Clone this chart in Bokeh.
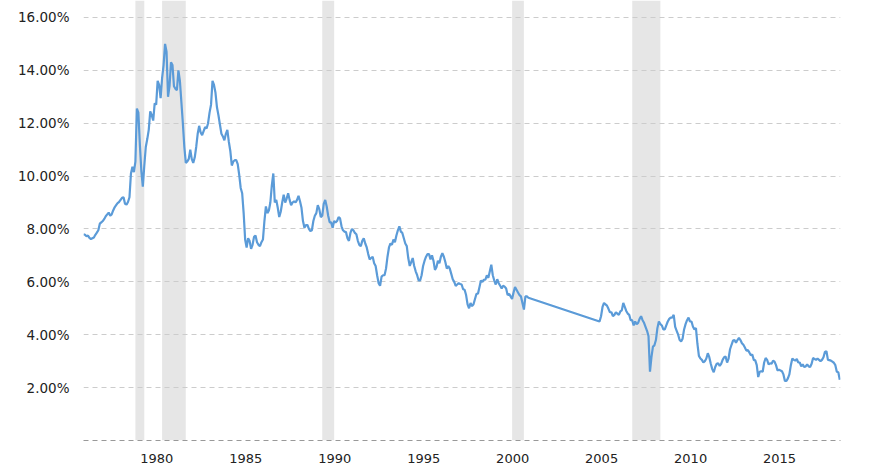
import pandas as pd
from bokeh.plotting import figure
from bokeh.models import (Range1d, FixedTicker, PrintfTickFormatter, BoxAnnotation,
                          CustomJSTickFormatter)
from bokeh.embed import file_html
from bokeh.resources import INLINE

# 30-year treasury yield (%), monthly, Feb 1977 - Feb 2002
seg1_start = "1977-02-01"
seg1_yield = [
    7.80, 7.78, 7.72, 7.75, 7.66, 7.62, 7.65, 7.68, 7.78, 7.86, 7.95,                 # 1977
    8.20, 8.25, 8.30, 8.38, 8.48, 8.55, 8.62, 8.50, 8.55, 8.70, 8.82, 8.90,           # 1978
    8.98, 9.02, 9.10, 9.18, 9.20, 8.95, 8.92, 9.02, 9.20, 10.10, 10.35, 10.15,        # 1979
    10.55, 12.55, 12.40, 11.20, 10.20, 9.60, 10.40, 11.10, 11.40, 11.75, 12.45, 12.30,  # 1980
    12.10, 12.75, 12.70, 13.60, 13.45, 12.95, 13.70, 14.20, 15.00, 14.70, 13.00, 13.40,  # 1981
    14.30, 14.20, 13.40, 13.30, 13.25, 14.00, 13.60, 12.80, 12.00, 11.10, 10.50, 10.55,  # 1982
    10.65, 11.00, 10.65, 10.50, 10.70, 11.10, 11.60, 11.90, 11.65, 11.55, 11.70, 11.85,  # 1983
    11.80, 12.00, 12.40, 12.70, 13.60, 13.45, 13.15, 12.60, 12.30, 11.95, 11.60, 11.50,  # 1984
    11.35, 11.60, 11.75, 11.30, 10.95, 10.40, 10.55, 10.60, 10.60, 10.45, 10.05, 9.55,   # 1985
    9.35, 8.60, 7.60, 7.30, 7.65, 7.55, 7.25, 7.40, 7.70, 7.75, 7.50, 7.40,           # 1986
    7.35, 7.50, 7.60, 8.30, 8.85, 8.60, 8.70, 9.00, 9.65, 10.10, 9.00, 9.10,          # 1987
    8.80, 8.45, 8.65, 9.00, 9.30, 9.00, 9.15, 9.35, 9.10, 8.90, 9.00, 9.05,           # 1988
    9.00, 9.10, 9.25, 9.05, 8.80, 8.30, 8.05, 8.15, 8.15, 8.00, 7.92, 7.95,           # 1989
    8.30, 8.50, 8.60, 8.90, 8.75, 8.45, 8.50, 8.95, 9.10, 8.85, 8.50, 8.25,           # 1990
    8.25, 8.05, 8.30, 8.25, 8.30, 8.45, 8.40, 8.10, 7.95, 7.90, 7.88, 7.65,           # 1991
    7.55, 7.85, 8.00, 7.95, 7.85, 7.80, 7.55, 7.40, 7.35, 7.55, 7.65, 7.45,           # 1992
    7.30, 7.05, 6.85, 6.90, 6.95, 6.70, 6.60, 6.25, 5.95, 5.85, 6.20, 6.25,           # 1993
    6.25, 6.50, 6.95, 7.30, 7.45, 7.40, 7.60, 7.50, 7.75, 7.95, 8.10, 7.90,           # 1994
    7.85, 7.65, 7.45, 7.35, 6.90, 6.60, 6.75, 6.90, 6.60, 6.40, 6.25, 6.05,           # 1995
    6.05, 6.25, 6.60, 6.80, 6.95, 7.05, 7.05, 6.85, 7.00, 6.80, 6.45, 6.55,           # 1996
    6.80, 6.70, 6.95, 7.08, 6.95, 6.75, 6.50, 6.60, 6.50, 6.30, 6.10, 6.00,           # 1997
    5.85, 5.90, 5.95, 5.92, 5.90, 5.72, 5.70, 5.50, 5.15, 5.00, 5.20, 5.08,           # 1998
    5.15, 5.35, 5.55, 5.55, 5.80, 6.05, 6.00, 6.08, 6.08, 6.25, 6.15, 6.40,           # 1999
    6.65, 6.25, 6.05, 5.90, 6.10, 5.95, 5.85, 5.75, 5.85, 5.82, 5.75, 5.50,           # 2000
    5.55, 5.45, 5.35, 5.60, 5.80, 5.70, 5.60, 5.50, 5.45, 5.20, 4.95, 5.45,           # 2001
    5.45, 5.40,                                                                      # 2002
]

# monthly, Feb 2006 - Aug 2019
seg2_start = "2006-02-01"
seg2_yield = [
    4.50, 4.70, 5.05, 5.20, 5.15, 5.10, 4.98, 4.85, 4.85, 4.70, 4.75,                 # 2006
    4.85, 4.80, 4.75, 4.88, 4.92, 5.20, 5.05, 4.90, 4.80, 4.75, 4.55, 4.55,           # 2007
    4.35, 4.50, 4.40, 4.45, 4.60, 4.70, 4.55, 4.45, 4.30, 4.15, 3.95, 2.60,           # 2008
    3.15, 3.55, 3.60, 3.80, 4.25, 4.50, 4.40, 4.35, 4.20, 4.20, 4.35, 4.50,           # 2009
    4.60, 4.65, 4.65, 4.75, 4.30, 4.15, 4.00, 3.80, 3.75, 3.85, 4.20, 4.40,           # 2010
    4.55, 4.65, 4.50, 4.50, 4.30, 4.20, 4.25, 3.65, 3.20, 3.10, 3.05, 2.95,           # 2011
    3.00, 3.10, 3.30, 3.15, 2.90, 2.70, 2.58, 2.78, 2.90, 2.92, 2.82, 2.90,           # 2012
    3.05, 3.15, 3.18, 2.95, 3.10, 3.45, 3.62, 3.78, 3.80, 3.70, 3.80, 3.88,           # 2013
    3.80, 3.68, 3.62, 3.52, 3.40, 3.42, 3.33, 3.22, 3.25, 3.05, 3.03, 2.85,           # 2014
    2.40, 2.60, 2.62, 2.60, 2.95, 3.12, 3.05, 2.88, 2.92, 2.90, 3.02, 2.98,           # 2015
    2.85, 2.65, 2.68, 2.65, 2.62, 2.50, 2.25, 2.25, 2.35, 2.50, 2.85, 3.10,           # 2016
    3.05, 3.02, 3.08, 2.95, 2.95, 2.80, 2.88, 2.78, 2.80, 2.88, 2.80, 2.78,           # 2017
    2.90, 3.12, 3.08, 3.05, 3.10, 3.05, 3.00, 3.05, 3.15, 3.35, 3.38, 3.05,           # 2018
    3.04, 3.02, 2.98, 2.94, 2.85, 2.60, 2.58, 2.30,                                   # 2019
]

# recessions (fractional years)
rec_start = [1980.0, 1981.5, 1990.5, 2001.17, 2007.92]
rec_end = [1980.5, 1982.83, 1991.17, 2001.83, 2009.5]

x_ticks = [1980, 1985, 1990, 1995, 2000, 2005, 2010, 2015]
y_ticks = [2, 4, 6, 8, 10, 12, 14, 16]

# year labels are drawn starting at the year's tick (left-aligned), so the
# centred label sits about 1.2 years to the right of it
LABEL_SHIFT = 1.2


def frac_years(start, n):
    d = pd.date_range(start, periods=n, freq="MS")
    return list(d.year + (d.month - 1) / 12.0)


xs = frac_years(seg1_start, len(seg1_yield)) + frac_years(seg2_start, len(seg2_yield))
ys = seg1_yield + seg2_yield

p = figure(width=874, height=466, output_backend="svg", toolbar_location=None,
           x_range=Range1d(xs[0], xs[-1] + 0.04), y_range=Range1d(0, 16.64),
           min_border_left=83, min_border_right=34, min_border_top=0, min_border_bottom=26)
p.outline_line_color = None
p.background_fill_color = "white"
p.border_fill_color = "white"

for a, b in zip(rec_start, rec_end):
    p.add_layout(BoxAnnotation(left=a, right=b, fill_color="#e6e6e6", fill_alpha=1.0,
                               line_color=None, level="image"))

p.line(xs, ys, line_color="#5b9bd8", line_width=2.2)

p.xgrid.visible = False
p.ygrid.ticker = FixedTicker(ticks=y_ticks)
p.ygrid.grid_line_color = "#cccccc"
p.ygrid.grid_line_dash = "5 4"
p.ygrid.grid_line_width = 1

p.yaxis.ticker = FixedTicker(ticks=y_ticks)
p.yaxis.formatter = PrintfTickFormatter(format="%.2f%%")
p.yaxis.axis_line_color = None
p.yaxis.major_tick_line_color = None
p.yaxis.minor_tick_line_color = None
p.yaxis.major_label_standoff = 8
p.yaxis.major_label_text_font = "DejaVu Sans"
p.yaxis.major_label_text_font_size = "13.5px"
p.yaxis.major_label_text_color = "#222222"

p.xaxis.ticker = FixedTicker(ticks=[t + LABEL_SHIFT for t in x_ticks])
p.xaxis.formatter = CustomJSTickFormatter(args=dict(shift=LABEL_SHIFT),
                                          code="return String(Math.round(tick - shift));")
p.xaxis.axis_line_color = "#999999"
p.xaxis.axis_line_dash = "5 4"
p.xaxis.major_tick_line_color = None
p.xaxis.minor_tick_line_color = None
p.xaxis.major_label_standoff = 7
p.xaxis.major_label_text_font = "DejaVu Sans"
p.xaxis.major_label_text_font_size = "13px"
p.xaxis.major_label_text_color = "#222222"

open("out.html", "w").write(file_html(p, INLINE))
